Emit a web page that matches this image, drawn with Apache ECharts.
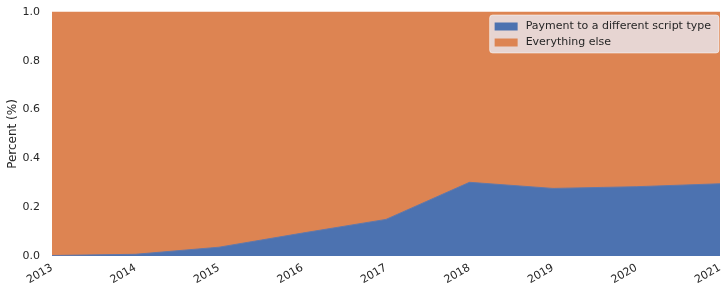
<!DOCTYPE html>
<html>
<head>
<meta charset="utf-8">
<script src="https://cdn.jsdelivr.net/npm/echarts@6/dist/echarts.min.js"></script>
<style>html,body{margin:0;padding:0;background:#fff}#c{width:727px;height:295px}</style>
</head>
<body>
<div id="c"></div>
<script>
const years = [2013, 2014, 2015, 2016, 2017, 2018, 2019, 2020, 2021];
const differentScriptType = [0.002, 0.007, 0.036, 0.094, 0.150, 0.302, 0.277, 0.284, 0.296];
const everythingElse = [0.998, 0.993, 0.964, 0.906, 0.850, 0.698, 0.723, 0.716, 0.704];
const yTicks = [0.0, 0.2, 0.4, 0.6, 0.8, 1.0];
const seriesNames = ['Payment to a different script type', 'Everything else'];

// cumulative top of the 100% stack
const stackTop = years.map((y, i) => differentScriptType[i] + everythingElse[i]);

const chart = echarts.init(document.getElementById('c'));
chart.setOption({
  animation: false,
  backgroundColor: '#ffffff',
  textStyle: { fontFamily: 'DejaVu Sans' },
  grid: { left: 52, right: 7, top: 12, bottom: 39, outerBoundsMode: 'none', containLabel: false },
  legend: {
    right: 8, top: 15,
    orient: 'vertical',
    backgroundColor: 'rgba(234,234,242,0.8)',
    borderColor: 'rgba(255,255,255,0.5)',
    borderWidth: 1,
    borderRadius: 3,
    padding: [5, 8, 4, 5],
    itemGap: 3,
    itemWidth: 23,
    itemHeight: 8,
    icon: 'rect',
    textStyle: { fontFamily: 'DejaVu Sans', fontSize: 11, color: '#262626', padding: [0, 0, 0, 3], lineHeight: 13 },
    data: seriesNames
  },
  xAxis: {
    type: 'value', min: 2013, max: 2021, interval: 1,
    axisLine: { show: false }, axisTick: { show: false }, splitLine: { show: false },
    axisLabel: { rotate: 30, fontSize: 11, color: '#262626', margin: 11,
      formatter: v => String(v) }
  },
  yAxis: {
    type: 'value', min: 0, max: 1, interval: 0.2,
    name: 'Percent (%)', nameLocation: 'middle', nameGap: 33, nameMoveOverlap: false,
    nameTextStyle: { fontSize: 12, color: '#262626' },
    axisLine: { show: false }, axisTick: { show: false }, splitLine: { show: false },
    axisLabel: { fontSize: 11, color: '#262626', margin: 12,
      formatter: v => yTicks.includes(Math.round(v * 10) / 10) ? v.toFixed(1) : '' }
  },
  series: [
    { name: seriesNames[1], type: 'line', symbol: 'none', z: 2,
      color: '#DD8452',
      lineStyle: { width: 1, color: '#DD8452' },
      areaStyle: { color: '#DD8452', opacity: 1, origin: 'start' },
      data: years.map((y, i) => [y, stackTop[i]]) },
    { name: seriesNames[0], type: 'line', symbol: 'none', z: 3,
      color: '#4C72B0',
      lineStyle: { width: 1, color: '#6378a8' },
      areaStyle: { color: '#4C72B0', opacity: 1, origin: 'start' },
      data: years.map((y, i) => [y, differentScriptType[i]]) }
  ]
});
</script>
</body>
</html>
